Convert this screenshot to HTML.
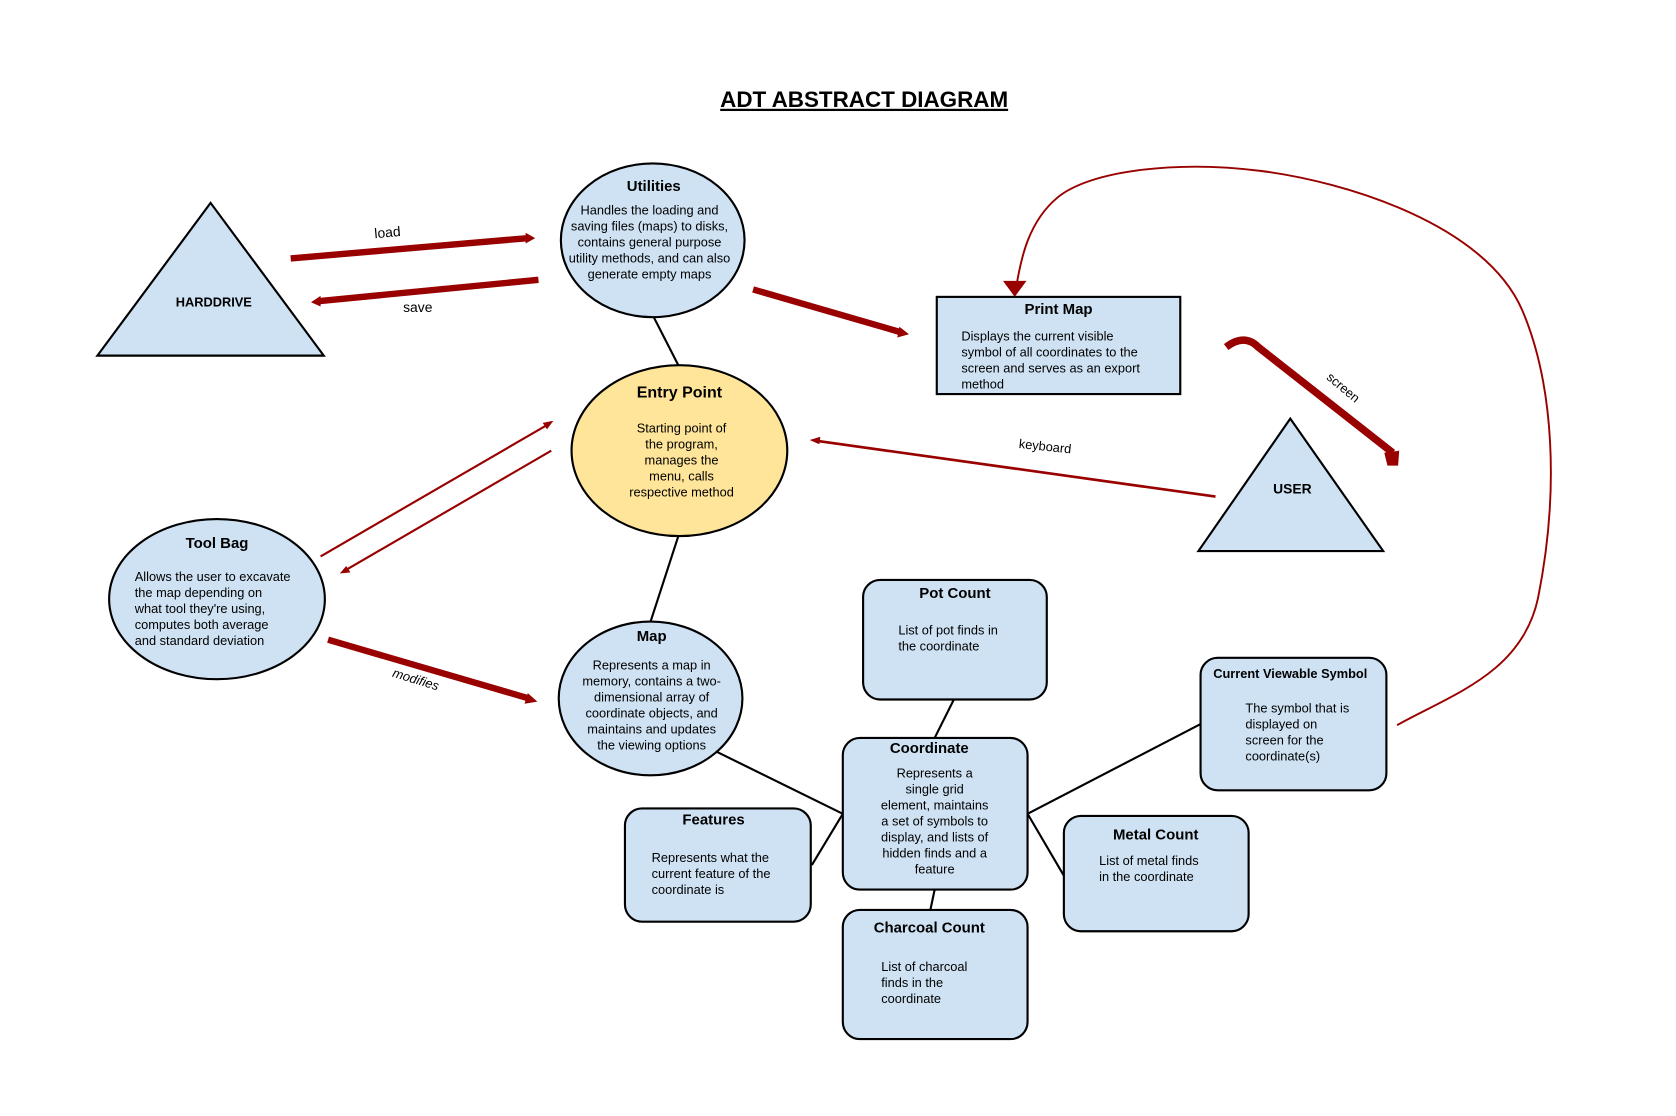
<!DOCTYPE html>
<html><head><meta charset="utf-8"><style>
html,body{margin:0;padding:0;background:#fff}
svg{display:block}
text{font-family:"Liberation Sans",Arial,sans-serif;fill:#000}
.b{font-weight:bold}
</style></head><body>
<svg width="1676" height="1116" viewBox="0 0 1569 1045" xmlns="http://www.w3.org/2000/svg">
<text x="809" y="100" font-size="21" class="b" text-anchor="middle" text-decoration="underline">ADT ABSTRACT DIAGRAM</text>

<g stroke="#000" stroke-width="2" fill="none">
<line x1="612" y1="297" x2="635" y2="342"/>
<line x1="635" y1="502" x2="609" y2="582"/>
<line x1="671" y1="704" x2="789" y2="762"/>
<line x1="760" y1="810" x2="789" y2="762"/>
<line x1="893" y1="655" x2="875" y2="691"/>
<line x1="962" y1="762" x2="1124" y2="678"/>
<line x1="962" y1="762" x2="996" y2="820"/>
<line x1="875" y1="833" x2="871" y2="852"/>
</g>

<g stroke="#000" stroke-width="2">
<polygon points="197,190 91,333 303,333" fill="#cfe2f3"/>
<polygon points="1208,392 1122,516 1295,516" fill="#cfe2f3"/>
<ellipse cx="611" cy="225" rx="86" ry="72" fill="#cfe2f3"/>
<ellipse cx="636" cy="422" rx="101" ry="80" fill="#ffe599"/>
<ellipse cx="203" cy="561" rx="101" ry="75" fill="#cfe2f3"/>
<ellipse cx="609" cy="654" rx="86" ry="72" fill="#cfe2f3"/>
<rect x="877" y="278" width="228" height="91" fill="#cfe2f3"/>
<rect x="808" y="543" width="172" height="112" rx="16" fill="#cfe2f3"/>
<rect x="1124" y="616" width="174" height="124" rx="16" fill="#cfe2f3"/>
<rect x="789" y="691" width="173" height="142" rx="16" fill="#cfe2f3"/>
<rect x="585" y="757" width="174" height="106" rx="16" fill="#cfe2f3"/>
<rect x="996" y="764" width="173" height="108" rx="16" fill="#cfe2f3"/>
<rect x="789" y="852" width="173" height="121" rx="16" fill="#cfe2f3"/>
</g>

<g stroke="#990000" fill="none">
<line x1="272" y1="242" x2="494" y2="223" stroke-width="6"/>
<polygon points="492,218 501,223 492,228" fill="#990000" stroke="none"/>
<line x1="504" y1="262" x2="298" y2="282" stroke-width="6"/>
<polygon points="300,277 291,283 300,287" fill="#990000" stroke="none"/>
<line x1="705" y1="271" x2="843" y2="311" stroke-width="6"/>
<polygon points="842,306 851,313 840,316" fill="#990000" stroke="none"/>
<line x1="307" y1="599" x2="495" y2="654" stroke-width="6"/>
<polygon points="494,649 503,657 491,659" fill="#990000" stroke="none"/>
<line x1="300" y1="521" x2="512" y2="398" stroke-width="2"/>
<polygon points="518,394 508,396 512,402" fill="#990000" stroke="none"/>
<line x1="516" y1="422" x2="325" y2="533" stroke-width="2"/>
<polygon points="318,537 328,536 324,530" fill="#990000" stroke="none"/>
<line x1="1138" y1="465" x2="766" y2="413" stroke-width="2.5"/>
<polygon points="758,412 768,409 767,416" fill="#990000" stroke="none"/>
<path d="M1148,325 Q1165,312 1178,325 L1304,424" stroke-width="7"/>
<polygon points="1296,424 1310,422 1309,436 1299,436" fill="#990000" stroke="none"/>
<path d="M1308,679 C1360,650 1425,630 1440,560 C1460,460 1455,360 1425,290 C1390,210 1260,170 1180,160 C1100,150 1020,160 990,185 C960,210 955,250 952,265" stroke-width="1.8"/>
<polygon points="939,263 961,263 950,278" fill="#990000" stroke="none"/>
</g>

<text x="363" y="222" font-size="13" text-anchor="middle" transform="rotate(-5 363 222)">load</text>
<text x="391" y="292" font-size="13" text-anchor="middle">save</text>
<text x="388" y="640" font-size="12" font-style="italic" text-anchor="middle" transform="rotate(17 388 640)">modifies</text>
<text x="978" y="422" font-size="12" text-anchor="middle" transform="rotate(6 978 422)">keyboard</text>
<text x="1255" y="366" font-size="12" text-anchor="middle" transform="rotate(40 1255 366)">screen</text>

<g font-size="12" text-anchor="middle">
<text x="200" y="287" class="b">HARDDRIVE</text>
<text x="1210" y="462" class="b" font-size="13">USER</text>
<text x="612" y="179" class="b" font-size="14">Utilities</text>
<text x="608" y="201">Handles the loading and</text>
<text x="608" y="216">saving files (maps) to disks,</text>
<text x="608" y="231">contains general purpose</text>
<text x="608" y="246">utility methods, and can also</text>
<text x="608" y="261">generate empty maps</text>
<text x="636" y="372" class="b" font-size="15">Entry Point</text>
<text x="638" y="405">Starting point of</text>
<text x="638" y="420">the program,</text>
<text x="638" y="435">manages the</text>
<text x="638" y="450">menu, calls</text>
<text x="638" y="465">respective method</text>
<text x="610" y="600" class="b" font-size="14">Map</text>
<text x="610" y="627">Represents a map in</text>
<text x="610" y="642">memory, contains a two-</text>
<text x="610" y="657">dimensional array of</text>
<text x="610" y="672">coordinate objects, and</text>
<text x="610" y="687">maintains and updates</text>
<text x="610" y="702">the viewing options</text>
<text x="203" y="513" class="b" font-size="14">Tool Bag</text>
<text x="991" y="294" class="b" font-size="14">Print Map</text>
<text x="894" y="560" class="b" font-size="14">Pot Count</text>
<text x="1208" y="635" class="b">Current Viewable Symbol</text>
<text x="870" y="705" class="b" font-size="14">Coordinate</text>
<text x="875" y="728">Represents a</text>
<text x="875" y="743">single grid</text>
<text x="875" y="758">element, maintains</text>
<text x="875" y="773">a set of symbols to</text>
<text x="875" y="788">display, and lists of</text>
<text x="875" y="803">hidden finds and a</text>
<text x="875" y="818">feature</text>
<text x="668" y="772" class="b" font-size="14">Features</text>
<text x="1082" y="786" class="b" font-size="14">Metal Count</text>
<text x="870" y="873" class="b" font-size="14">Charcoal Count</text>
</g>
<g font-size="12">
<text x="126" y="544">Allows the user to excavate</text>
<text x="126" y="559">the map depending on</text>
<text x="126" y="574">what tool they're using,</text>
<text x="126" y="589">computes both average</text>
<text x="126" y="604">and standard deviation</text>
<text x="900" y="319">Displays the current visible</text>
<text x="900" y="334">symbol of all coordinates to the</text>
<text x="900" y="349">screen and serves as an export</text>
<text x="900" y="364">method</text>
<text x="841" y="594">List of pot finds in</text>
<text x="841" y="609">the coordinate</text>
<text x="1166" y="667">The symbol that is</text>
<text x="1166" y="682">displayed on</text>
<text x="1166" y="697">screen for the</text>
<text x="1166" y="712">coordinate(s)</text>
<text x="610" y="807">Represents what the</text>
<text x="610" y="822">current feature of the</text>
<text x="610" y="837">coordinate is</text>
<text x="1029" y="810">List of metal finds</text>
<text x="1029" y="825">in the coordinate</text>
<text x="825" y="909">List of charcoal</text>
<text x="825" y="924">finds in the</text>
<text x="825" y="939">coordinate</text>
</g>
</svg>
</body></html>
